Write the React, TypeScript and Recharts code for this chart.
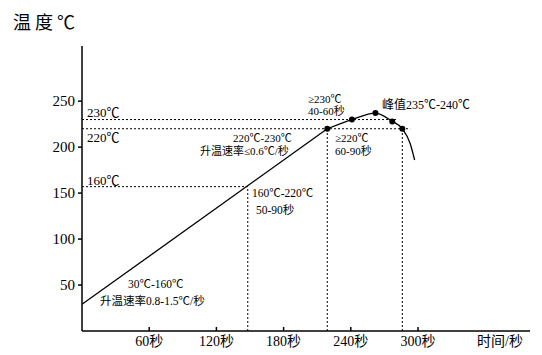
import { ComposedChart, Line, ReferenceLine, XAxis, YAxis } from 'recharts';

// reflow profile: time (s) / temperature (°C)
const RAMP_T = [0, 219];
const RAMP_V = [29, 220];
const CURVE_T = [219, 241, 262, 277, 286, 293, 297];
const CURVE_V = [220, 230, 237, 228, 220, 204, 186];
const DOTTED_COUNT = 5; // first five curve points carry a marker

const X_TICKS = [60, 120, 180, 240, 300];
const Y_TICKS = [50, 100, 150, 200, 250];

// dotted guides: [value, end]
const H_GUIDES = [
  { y: 230, toX: 281 },
  { y: 220, toX: 293 },
  { y: 157, toX: 148 },
];
const V_GUIDES = [
  { x: 148, toY: 157 },
  { x: 219, toY: 220 },
  { x: 286, toY: 220 },
];

const ramp = RAMP_T.map((t, i) => ({ t, v: RAMP_V[i] }));
const curve = CURVE_T.map((t, i) => ({ t, v: CURVE_V[i] }));

const FONT = "'Liberation Serif', 'Noto Sans CJK SC', serif";

const NOTES = [
  { x: 87, y: 117, text: '230℃', size: 13 },
  { x: 87, y: 142, text: '220℃', size: 13 },
  { x: 87, y: 185, text: '160℃', size: 13 },
  { x: 128, y: 288, text: '30℃-160℃', size: 11.5 },
  { x: 100, y: 305, text: '升温速率0.8-1.5℃/秒', size: 11.5 },
  { x: 252, y: 197, text: '160℃-220℃', size: 11.5 },
  { x: 256, y: 214, text: '50-90秒', size: 11.5 },
  { x: 233, y: 142, text: '220℃-230℃', size: 11 },
  { x: 200, y: 155, text: '升温速率≤0.6℃/秒', size: 11 },
  { x: 308, y: 103, text: '≥230℃', size: 11 },
  { x: 308, y: 115, text: '40-60秒', size: 11 },
  { x: 335, y: 142, text: '≥220℃', size: 11 },
  { x: 335, y: 155, text: '60-90秒', size: 11 },
  { x: 382, y: 109, text: '峰值235℃-240℃', size: 12 },
];

const XTick = (props: any) => {
  const { x, y, payload } = props;
  return (
    <g>
      <line x1={x} y1={y} x2={x} y2={y - 4} stroke="#000" strokeWidth={1.5} />
      <text x={x} y={y + 15} textAnchor="middle" fontSize={14} fontFamily={FONT} fill="#000">
        {`${payload.value}秒`}
      </text>
    </g>
  );
};

const CurveDot = (props: any) => {
  const { cx, cy, index } = props;
  if (index >= DOTTED_COUNT) return <g key={`d${index}`} />;
  return <circle key={`d${index}`} cx={cx} cy={cy} r={3} fill="#000" />;
};

export default function App() {
  return (
    <div style={{ position: 'relative', width: 542, height: 355, background: '#fff' }}>
      <style>{'body{margin:0}'}</style>
      <ComposedChart width={542} height={355} margin={{ top: 46, right: 12, left: 0, bottom: 0 }}>
        <XAxis
          type="number"
          dataKey="t"
          domain={[0, 400]}
          ticks={X_TICKS}
          allowDataOverflow
          height={24}
          tickSize={0}
          tickMargin={0}
          tickLine={false}
          tick={<XTick />}
          axisLine={{ stroke: '#000', strokeWidth: 1.5 }}
        />
        <YAxis
          type="number"
          domain={[0, 310]}
          ticks={Y_TICKS}
          allowDataOverflow
          width={82}
          tickSize={4}
          tickMargin={3}
          tickLine={{ stroke: '#000', strokeWidth: 1.5 }}
          axisLine={{ stroke: '#000', strokeWidth: 1.5 }}
          tick={{ fill: '#000', fontSize: 15, fontFamily: FONT }}
        />
        {H_GUIDES.map((g) => (
          <ReferenceLine
            key={`h${g.y}`}
            segment={[
              { x: 0, y: g.y },
              { x: g.toX, y: g.y },
            ]}
            stroke="#000"
            strokeWidth={1}
            strokeDasharray="2 2"
          />
        ))}
        {V_GUIDES.map((g) => (
          <ReferenceLine
            key={`v${g.x}`}
            segment={[
              { x: g.x, y: 0 },
              { x: g.x, y: g.toY },
            ]}
            stroke="#000"
            strokeWidth={1}
            strokeDasharray="2 2"
          />
        ))}
        <Line
          data={ramp}
          dataKey="v"
          type="linear"
          stroke="#000"
          strokeWidth={1.3}
          dot={false}
          isAnimationActive={false}
        />
        <Line
          data={curve}
          dataKey="v"
          type="monotone"
          stroke="#000"
          strokeWidth={1.3}
          dot={<CurveDot />}
          activeDot={false}
          isAnimationActive={false}
        />
      </ComposedChart>
      <svg width={542} height={355} style={{ position: 'absolute', left: 0, top: 0, pointerEvents: 'none' }}>
        <text x={13} y={29} fontSize={18} letterSpacing={4} fontFamily={FONT} fill="#000">
          温度℃
        </text>
        <text x={477} y={346} fontSize={14} fontFamily={FONT} fill="#000">
          时间/秒
        </text>
        {NOTES.map((n) => (
          <text key={n.text} x={n.x} y={n.y} fontSize={n.size} fontFamily={FONT} fill="#000">
            {n.text}
          </text>
        ))}
      </svg>
    </div>
  );
}
